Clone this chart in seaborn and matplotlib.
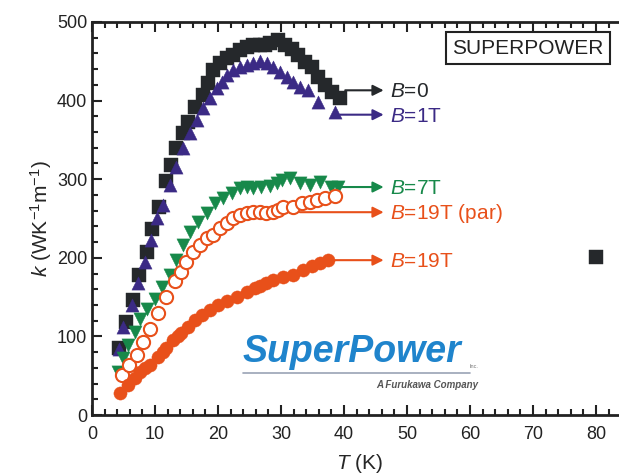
"""Thermal conductivity k(T) of a SuperPower tape at several fields."""

import matplotlib as mpl
import matplotlib.pyplot as plt
import pandas as pd
import seaborn as sns
from matplotlib.ticker import MultipleLocator

mpl.use("Agg")

# B = 0
B0_T = [4.3, 5.4, 6.5, 7.5, 8.7, 9.6, 10.6, 11.7, 12.6, 13.4, 14.5, 15.3, 16.3,
        17.6, 18.4, 19.2, 20.3, 21.4, 22.4, 23.5, 24.6, 25.6, 26.7, 27.5, 28.3,
        29.5, 30.6, 31.7, 32.7, 33.8, 34.9, 35.9, 37.0, 38.1, 39.4, 80.0]
B0_K = [85, 118, 146, 178, 208, 236, 264, 298, 318, 340, 359, 373, 392,
        407, 422, 439, 448, 454, 458, 464, 468, 470, 470, 470, 473,
        477, 471, 465, 458, 449, 443, 430, 420, 411, 403, 201]
# B = 1 T
B1_T = [4.3, 4.9, 6.3, 7.3, 8.4, 9.4, 10.4, 11.3, 12.4, 13.4, 14.5, 15.6, 16.6,
        17.6, 18.7, 19.8, 20.6, 21.4, 22.4, 23.5, 24.6, 25.6, 26.7, 27.8, 28.7,
        29.8, 30.9, 31.9, 33.0, 34.3, 35.9, 38.6]
B1_K = [84, 112, 140, 168, 195, 223, 250, 267, 293, 316, 340, 359, 375,
        391, 403, 416, 424, 433, 439, 443, 445, 448, 450, 448, 443,
        436, 430, 423, 417, 413, 398, 386]
# B = 7 T
B7_T = [4.1, 4.9, 5.7, 6.8, 7.6, 8.7, 10.0, 11.1, 12.4, 13.4, 14.5, 15.6, 16.8,
        18.2, 19.5, 20.8, 22.2, 23.5, 24.6, 25.6, 26.9, 28.2, 29.3, 30.2, 31.4,
        33.0, 34.6, 36.2, 38.0, 39.0]
B7_K = [55, 72, 89, 106, 122, 135, 148, 163, 178, 197, 216, 233, 246,
        257, 270, 276, 282, 289, 290, 289, 290, 291, 295, 299, 301,
        295, 293, 296, 290, 290]
# B = 19 T, parallel
PAR_T = [4.7, 5.9, 7.1, 8.1, 9.2, 10.5, 11.7, 13.2, 14.2, 15.0, 16.0, 17.1, 18.2,
         19.2, 20.3, 21.4, 22.4, 23.5, 24.6, 25.6, 26.7, 27.7, 28.7, 29.5, 30.3,
         31.9, 33.3, 34.6, 35.7, 37.0, 38.6]
PAR_K = [51, 64, 76, 93, 110, 130, 150, 170, 182, 195, 208, 216, 225,
         229, 238, 244, 250, 254, 257, 258, 258, 257, 258, 261, 265,
         265, 270, 271, 273, 276, 278]
# B = 19 T
B19_T = [4.4, 5.7, 6.8, 7.6, 8.4, 9.2, 10.5, 11.2, 11.8, 12.9, 13.6, 14.2, 15.2,
         16.3, 17.4, 18.7, 20.0, 21.4, 23.0, 24.6, 25.8, 26.7, 27.7, 28.7, 30.3,
         31.9, 33.5, 34.9, 36.2, 37.5]
B19_K = [28, 38, 47, 55, 60, 64, 74, 80, 85, 95, 100, 104, 112,
         121, 127, 134, 140, 145, 150, 156, 161, 164, 168, 172, 176,
         178, 184, 189, 193, 197]

SERIES = [
    # label, T, k, marker, color, filled, arrow start, arrow y
    ("$B$=0", B0_T, B0_K, "s", "#25282b", True, 40.2, 413),
    ("$B$=1T", B1_T, B1_K, "^", "#3b2a85", True, 39.4, 382),
    ("$B$=7T", B7_T, B7_K, "v", "#17894a", True, 39.4, 290),
    ("$B$=19T (par)", PAR_T, PAR_K, "o", "#e8501a", False, 33.0, 258),
    ("$B$=19T", B19_T, B19_K, "o", "#e8501a", True, 38.0, 197),
]

sns.set_style("ticks")
plt.rcParams["font.family"] = ["Liberation Sans", "DejaVu Sans"]
plt.rcParams["mathtext.fontset"] = "custom"
plt.rcParams["mathtext.rm"] = "Liberation Sans"
plt.rcParams["mathtext.it"] = "Liberation Sans:italic"

fig = plt.figure(figsize=(6.19, 4.76), dpi=100)
ax = fig.add_axes([0.1486, 0.128, 0.865, 0.826])

for label, t, k, marker, color, filled, x0, y0 in SERIES:
    df = pd.DataFrame({"T": t, "k": k})
    sns.scatterplot(data=df, x="T", y="k", ax=ax, marker=marker, s=90,
                    color=color if filled else "white",
                    edgecolor=color, linewidth=1.5 if not filled else 0.3,
                    zorder=3)
    ax.annotate("", xy=(46.3, y0), xytext=(x0, y0),
                arrowprops=dict(arrowstyle="-|>", color=color, lw=1.5,
                                mutation_scale=16, shrinkA=0, shrinkB=0),
                zorder=2)
    ax.text(47.3, y0 - 2, label, color=color, fontsize=15, va="center")

ax.set_xlim(0, 85)
ax.set_ylim(0, 500)
ax.xaxis.set_major_locator(MultipleLocator(10))
ax.xaxis.set_minor_locator(MultipleLocator(2))
ax.yaxis.set_major_locator(MultipleLocator(100))
ax.yaxis.set_minor_locator(MultipleLocator(20))
ax.tick_params(which="both", direction="in", top=True, right=False,
               width=1.5, colors="#222222", labelsize=13)
ax.tick_params(which="major", length=7)
ax.tick_params(which="minor", length=4)
ax.tick_params(axis="x", pad=8)
for spine in ax.spines.values():
    spine.set_linewidth(2)
    spine.set_color("#222222")
ax.set_xlabel("$T$ (K)", fontsize=15, labelpad=6)
ax.set_ylabel("$k$ (WK$^{-1}$m$^{-1}$)", fontsize=15, labelpad=2)

# SUPERPOWER tag
fig.text(528 / 619, 1 - 48 / 476, "SUPERPOWER", fontsize=15, color="#222222",
         ha="center", va="center",
         bbox=dict(boxstyle="square,pad=0.3", fc="white", ec="#222222", lw=1.5))

# company logo, as text
fig.text(243 / 619, 1 - 352 / 476, "SuperPower", fontsize=27, color="#1f84cc",
         fontweight="bold", fontstyle="italic", ha="left", va="center")
fig.add_artist(plt.Line2D([243 / 619, 470 / 619], [1 - 373 / 476, 1 - 373 / 476],
                          color="#9aa3b5", lw=1.2))
fig.text(470 / 619, 1 - 366 / 476, "Inc.", fontsize=4, color="#777777",
         ha="left", va="center")
fig.text(478 / 619, 1 - 385 / 476, "A Furukawa Company", fontsize=7,
         color="#555555", fontweight="bold", fontstyle="italic",
         ha="right", va="center")

fig.savefig("out.png", dpi=100)
plt.close(fig)
